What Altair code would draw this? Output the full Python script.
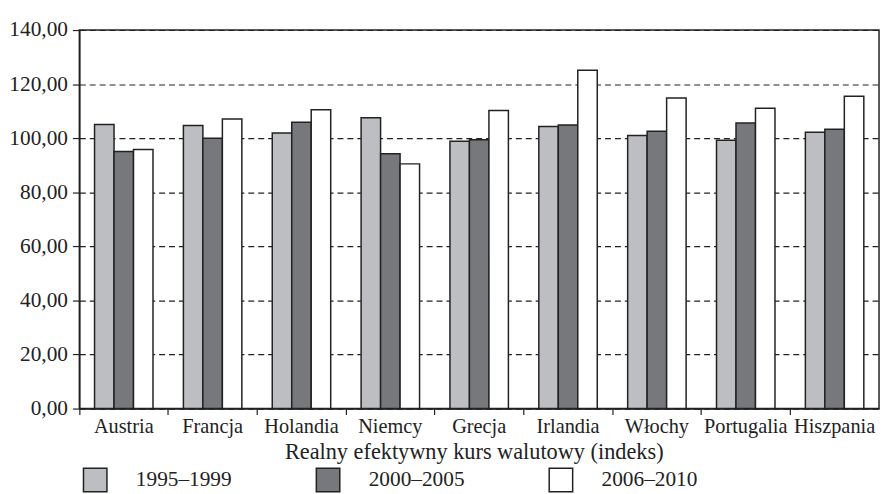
import altair as alt
import pandas as pd

countries = ["Austria", "Francja", "Holandia", "Niemcy", "Grecja", "Irlandia",
             "Włochy", "Portugalia", "Hiszpania"]
periods = ["1995–1999", "2000–2005", "2006–2010"]
v_1995_1999 = [105.1, 104.7, 101.9, 107.6, 98.9, 104.3, 101.0, 99.2, 102.2]
v_2000_2005 = [95.1, 100.0, 105.9, 94.2, 99.4, 104.9, 102.6, 105.6, 103.3]
v_2006_2010 = [95.8, 107.1, 110.5, 90.5, 110.2, 125.1, 114.9, 111.1, 115.5]
y_ticks = [0, 20, 40, 60, 80, 100, 120, 140]
colors = ["#bdbec2", "#77787c", "#ffffff"]

rows = []
for series, vals in zip(periods, [v_1995_1999, v_2000_2005, v_2006_2010]):
    for c, v in zip(countries, vals):
        rows.append({"kraj": c, "okres": series, "wartosc": v})
df = pd.DataFrame(rows)

FONT = "Liberation Serif"
INK = "#222222"

chart = alt.Chart(df).mark_bar(stroke=INK, strokeWidth=1.5).encode(
    x=alt.X("kraj:N", sort=countries,
            scale=alt.Scale(paddingInner=0, paddingOuter=0),
            axis=alt.Axis(title="Realny efektywny kurs walutowy (indeks)",
                          labelAngle=0, bandPosition=0,
                          labelFont=FONT, labelFontSize=20.5, labelColor=INK,
                          labelPadding=2, tickSize=6, tickColor=INK, tickWidth=1.2,
                          domainColor=INK, domainWidth=1.5,
                          titleFont=FONT, titleFontSize=22.5, titleFontWeight="normal",
                          titleColor=INK, titlePadding=4, titleX=398, titleAlign="center",
                          grid=False)),
    xOffset=alt.XOffset("okres:N", sort=periods,
                        scale=alt.Scale(paddingInner=0, paddingOuter=0.78)),
    y=alt.Y("wartosc:Q",
            scale=alt.Scale(domain=[0, 140], nice=False),
            axis=alt.Axis(title=None, values=y_ticks,
                          labelExpr="replace(format(datum.value, '.2f'), '.', ',')",
                          labelFont=FONT, labelFontSize=21.5, labelColor=INK,
                          labelPadding=5, tickSize=7, tickColor=INK, tickWidth=1.2,
                          domainColor=INK, domainWidth=1.5,
                          grid=True, gridDash=[6, 4], gridColor=INK, gridWidth=1.2)),
    fill=alt.Fill("okres:N", sort=periods,
                  scale=alt.Scale(domain=periods, range=colors),
                  legend=alt.Legend(title=None, orient="none", legendX=3, legendY=441,
                                    direction="horizontal", symbolType="square",
                                    symbolSize=560, symbolStrokeColor=INK,
                                    symbolStrokeWidth=1.5, labelFont=FONT,
                                    labelFontSize=21.5, labelColor=INK, labelOffset=28,
                                    columnPadding=82, padding=0)),
).properties(
    width=807, height=382,
    autosize=alt.AutoSizeParams(type="none"),
    padding={"left": 72, "top": 20, "right": 2, "bottom": 86},
).configure_view(
    stroke=INK, strokeWidth=1.5
)

chart.save("out.html", embed_options={"renderer": "svg", "actions": False})
